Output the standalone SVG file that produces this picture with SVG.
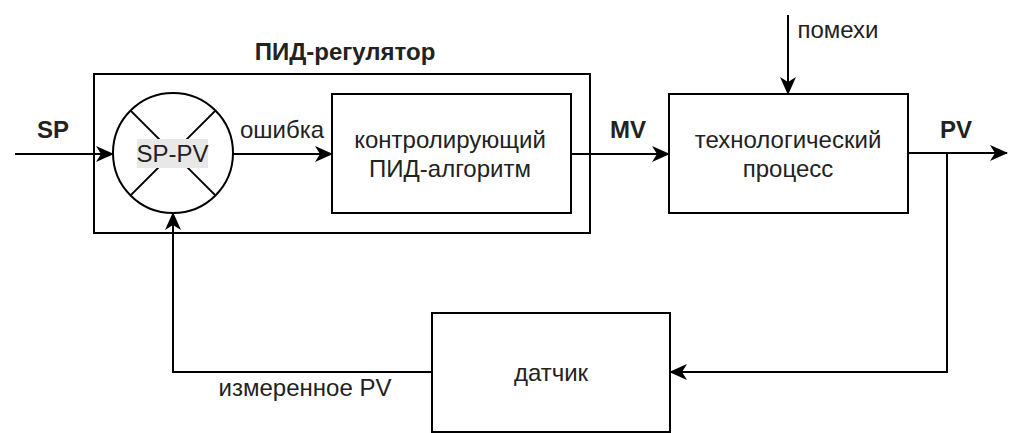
<svg xmlns="http://www.w3.org/2000/svg" width="1024" height="433" viewBox="0 0 1024 433">
<style>
.box{fill:#fff;stroke:#000;stroke-width:2}
.ln{fill:none;stroke:#000;stroke-width:2}
.t{font-family:"Liberation Sans",Arial,sans-serif;font-size:24px;fill:#222;text-anchor:middle}
.b{font-weight:bold}
</style>
<defs>
<marker id="arr" markerUnits="userSpaceOnUse" viewBox="0 0 18 16" refX="17" refY="8" markerWidth="18" markerHeight="16" orient="auto">
<path d="M0,0 L18,8 L0,16 L5,8 Z" fill="#000"/>
</marker>
</defs>
<rect width="1024" height="433" fill="#fff"/>
<g id="pid-regulator">
<rect class="box" x="94" y="74" width="496" height="159"/>
<text class="t b" x="345" y="60">ПИД-регулятор</text>
</g>
<g id="sum">
<circle class="box" cx="173" cy="153" r="60"/>
<line class="ln" x1="130.6" y1="110.6" x2="215.4" y2="195.4"/>
<line class="ln" x1="215.4" y1="110.6" x2="130.6" y2="195.4"/>
<rect x="137" y="139" width="71" height="29" fill="#e8e8e8"/>
<text class="t" x="172.5" y="162">SP-PV</text>
</g>
<g id="pid-algorithm">
<rect class="box" x="332" y="94" width="239" height="119"/>
<text class="t" x="450" y="148">контролирующий</text>
<text class="t" x="450" y="177">ПИД-алгоритм</text>
</g>
<g id="process">
<rect class="box" x="669" y="94" width="239" height="119"/>
<text class="t" x="788" y="148">технологический</text>
<text class="t" x="788" y="177">процесс</text>
</g>
<g id="sensor">
<rect class="box" x="432" y="313" width="238" height="119"/>
<text class="t" x="551" y="381">датчик</text>
</g>
<g id="connectors">
<line class="ln" x1="15" y1="154" x2="113" y2="154" marker-end="url(#arr)"/>
<line class="ln" x1="233" y1="154" x2="332" y2="154" marker-end="url(#arr)"/>
<line class="ln" x1="571" y1="154" x2="669" y2="154" marker-end="url(#arr)"/>
<line class="ln" x1="788" y1="15" x2="788" y2="94" marker-end="url(#arr)"/>
<line class="ln" x1="908" y1="153" x2="1007" y2="153" marker-end="url(#arr)"/>
<polyline class="ln" points="947,153 947,372 670,372" marker-end="url(#arr)"/>
<polyline class="ln" points="432,372 173,372 173,213" marker-end="url(#arr)"/>
</g>
<g id="labels">
<text class="t b" x="53" y="138">SP</text>
<text class="t" x="282" y="138">ошибка</text>
<text class="t b" x="628" y="138">MV</text>
<text class="t" x="838" y="38">помехи</text>
<text class="t b" x="956" y="138">PV</text>
<text class="t" x="305" y="396">измеренное PV</text>
</g>
</svg>
